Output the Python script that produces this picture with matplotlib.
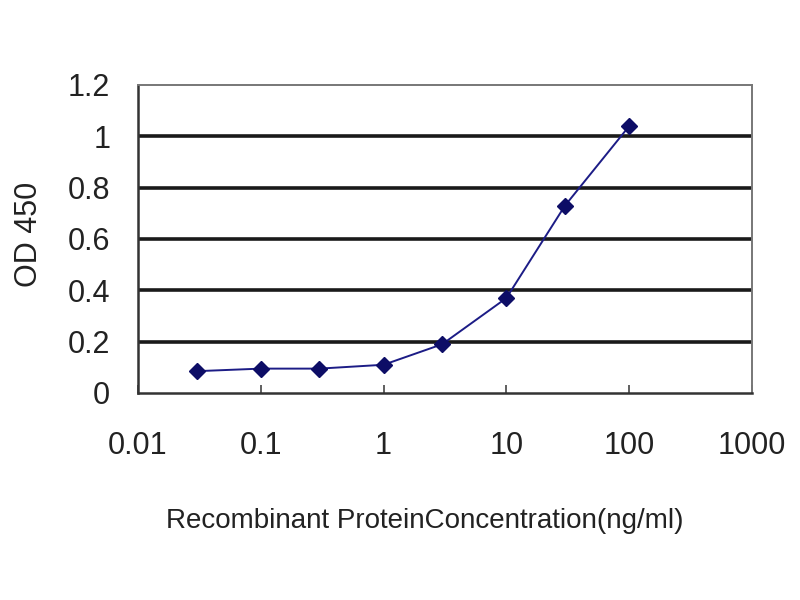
import matplotlib
matplotlib.use("Agg")
import matplotlib.pyplot as plt
from matplotlib.ticker import FixedLocator, NullLocator

# Data
concentration = [0.03, 0.1, 0.3, 1, 3, 10, 30, 100]
od450 = [0.085, 0.095, 0.095, 0.11, 0.19, 0.37, 0.73, 1.04]
x_ticks = [0.01, 0.1, 1, 10, 100, 1000]
x_tick_labels = ["0.01", "0.1", "1", "10", "100", "1000"]
y_ticks = [0, 0.2, 0.4, 0.6, 0.8, 1.0, 1.2]
y_tick_labels = ["0", "0.2", "0.4", "0.6", "0.8", "1", "1.2"]

plt.rcParams['font.family'] = ['Liberation Sans', 'DejaVu Sans']

fig = plt.figure(figsize=(8, 6), dpi=100)
ax = fig.add_axes([138/800, 1-393/600, (752-138)/800, (393-85)/600])

ax.set_xscale('log')
ax.set_xlim(0.01, 1000)
ax.set_ylim(0, 1.2)

# gridlines
for yv in y_ticks[1:-1]:
    ax.axhline(yv, color='#1a1a1a', lw=2.6, zorder=1)

ax.plot(concentration, od450, color='#1c1c86', lw=1.4, marker='D',
        markersize=8, markerfacecolor='#0d0d66', markeredgecolor='#0d0d66', zorder=3)

ax.xaxis.set_major_locator(FixedLocator(x_ticks))
ax.xaxis.set_minor_locator(NullLocator())
ax.set_xticklabels(x_tick_labels)
ax.set_yticks(y_ticks)
ax.set_yticklabels(y_tick_labels)

ax.tick_params(axis='x', direction='in', length=6, width=1.2, color='#444444',
               labelsize=22, pad=27, labelcolor='#222222')
ax.tick_params(axis='y', length=0, labelsize=22, pad=20, labelcolor='#222222')

for s in ['left', 'bottom']:
    ax.spines[s].set_color('#333333')
    ax.spines[s].set_linewidth(1.8)
for s in ['top', 'right']:
    ax.spines[s].set_color('#777777')
    ax.spines[s].set_linewidth(1.4)

fig.text(425/800, 1-521/600, "Recombinant ProteinConcentration(ng/ml)",
         ha='center', va='center', fontsize=20, color='#222222')
fig.text(29/800, 1-234/600, "OD 450", ha='center', va='center',
         rotation=90, fontsize=22, color='#222222')

fig.savefig("out.png", dpi=100)
